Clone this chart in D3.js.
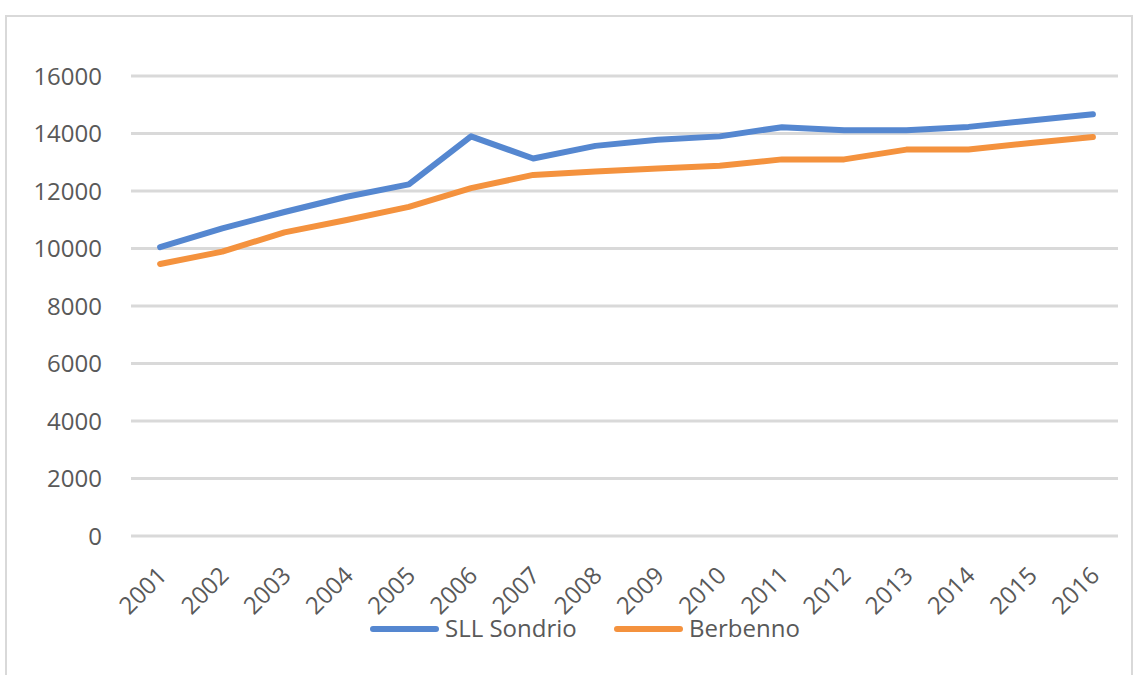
<!DOCTYPE html>
<html>
<head>
<meta charset="utf-8">
<script src="https://cdn.jsdelivr.net/npm/d3@7"></script>
<style>
  body { margin: 0; background: #fff; }
  text { font-family: "Open Sans", "Noto Sans", sans-serif; fill: #595959; }
</style>
</head>
<body>
<div id="chart"></div>
<script>
const years = ['2001', '2002', '2003', '2004', '2005', '2006', '2007', '2008',
               '2009', '2010', '2011', '2012', '2013', '2014', '2015', '2016'];
const sondrio = [10050, 10700, 11270, 11800, 12230, 13900, 13130, 13570,
                 13780, 13900, 14220, 14110, 14110, 14230, 14450, 14670];
const berbenno = [9460, 9890, 10560, 10990, 11450, 12100, 12560, 12680,
                  12780, 12880, 13100, 13100, 13440, 13440, 13670, 13880];
const yTicks = [0, 2000, 4000, 6000, 8000, 10000, 12000, 14000, 16000];
const seriesNames = ['SLL Sondrio', 'Berbenno'];
const seriesColours = ['#5587d0', '#f4923e'];

const width = 1138, height = 675;
const margin = {top: 76, right: 14, bottom: 139, left: 129};

const svg = d3.select('#chart').append('svg')
    .attr('width', width)
    .attr('height', height);

// light frame round the chart, cut off at the bottom as in the picture
svg.append('rect')
    .attr('x', 6).attr('y', 16)
    .attr('width', 1126).attr('height', 700)
    .attr('fill', 'none')
    .attr('stroke', '#d9d9d9')
    .attr('stroke-width', 2);

const x = d3.scaleBand()
    .domain(years)
    .range([margin.left, width - margin.right]);

const y = d3.scaleLinear()
    .domain([0, 16000])
    .range([height - margin.bottom, margin.top]);

// gridlines
svg.append('g')
  .selectAll('line')
    .data(yTicks)
  .enter().append('line')
    .attr('x1', margin.left + 2)
    .attr('x2', width - margin.right - 6)
    .attr('y1', d => y(d))
    .attr('y2', d => y(d))
    .attr('stroke', '#d9d9d9')
    .attr('stroke-width', 3);

const yAxis = svg.append('g')
    .attr('transform', 'translate(102,0)')
    .call(d3.axisLeft(y).tickValues(yTicks).tickFormat(d3.format('d'))
      .tickSize(0).tickPadding(0));
yAxis.select('.domain').remove();
yAxis.selectAll('text')
    .style('font-size', '24px')
    .attr('dy', '0.35em');

const xAxis = svg.append('g')
    .attr('transform', 'translate(0,' + (height - margin.bottom) + ')')
    .call(d3.axisBottom(x).tickSize(0).tickPadding(0));
xAxis.select('.domain').remove();
xAxis.selectAll('text')
    .style('font-size', '24px')
    .attr('text-anchor', 'end')
    .attr('dy', null)
    .attr('y', 0)
    .attr('transform', 'translate(8,41) rotate(-45)');

const line = d3.line()
    .x((d, i) => x(years[i]) + x.bandwidth() / 2)
    .y(d => y(d));

[sondrio, berbenno].forEach((values, i) => {
  svg.append('path')
      .datum(values)
      .attr('d', line)
      .attr('fill', 'none')
      .attr('stroke', seriesColours[i])
      .attr('stroke-width', 6)
      .attr('stroke-linecap', 'round')
      .attr('stroke-linejoin', 'round');
});

// legend
const legendX = [373, 617];
const legend = svg.append('g')
  .selectAll('g')
    .data(seriesNames)
  .enter().append('g')
    .attr('transform', (d, i) => 'translate(' + legendX[i] + ',629)');

legend.append('line')
    .attr('x1', 0).attr('x2', 63)
    .attr('stroke', (d, i) => seriesColours[i])
    .attr('stroke-width', 6)
    .attr('stroke-linecap', 'round');

legend.append('text')
    .attr('x', 72)
    .attr('dy', '0.35em')
    .style('font-size', '24px')
    .text(d => d);
</script>
</body>
</html>
